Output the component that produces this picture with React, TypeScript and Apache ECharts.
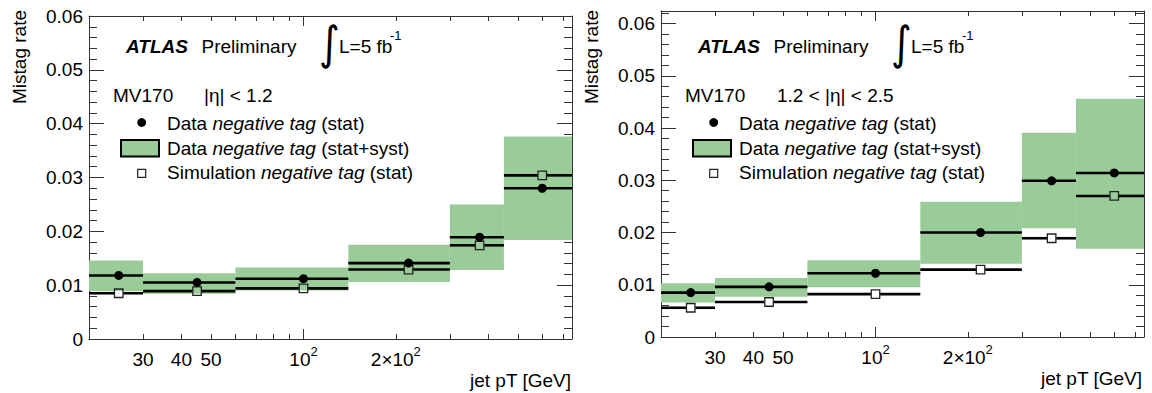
import React, { useEffect, useRef } from 'react';
import * as echarts from 'echarts';

// ---------------- data ----------------
const BIN_EDGES = [20, 30, 60, 140, 300, 450, 750];
const BIN_CENTERS = [25, 45, 100, 220, 375, 600];

// |eta| < 1.2
const LEFT_DATA = [0.0118, 0.0105, 0.0112, 0.0141, 0.0189, 0.0280];
const LEFT_SYST_LOW = [0.0089, 0.0084, 0.0090, 0.0106, 0.0128, 0.0184];
const LEFT_SYST_HIGH = [0.0146, 0.0122, 0.0133, 0.0175, 0.0250, 0.0376];
const LEFT_SIM = [0.0085, 0.0089, 0.0094, 0.0129, 0.0174, 0.0304];

// 1.2 < |eta| < 2.5
const RIGHT_DATA = [0.0085, 0.0096, 0.0122, 0.0200, 0.0299, 0.0314];
const RIGHT_SYST_LOW = [0.0066, 0.0077, 0.0095, 0.0140, 0.0208, 0.0169];
const RIGHT_SYST_HIGH = [0.0103, 0.0113, 0.0147, 0.0259, 0.0391, 0.0456];
const RIGHT_SIM = [0.0056, 0.0067, 0.0082, 0.0129, 0.0189, 0.0270];

const X_MIN = 20;
const X_MAX = 750;
const X_MAJOR_TICKS = [100];
const X_MINOR_TICKS = [30, 40, 50, 60, 70, 80, 90, 200, 300, 400, 500, 600, 700];
const X_TICK_LABELS = [30, 40, 50, 100, 200];
const Y_MAX_LEFT = 0.06;
const Y_MAX_RIGHT = 0.0624;

// ---------------- style ----------------
const FONT = "'Liberation Sans', Arial, Helvetica, sans-serif";
const GREEN = '#99cc99';
const FRAME = '#333333';
const L10 = (v: number) => Math.log10(v);

function xLabel(v: number): string {
  const p = Math.round(Math.pow(10, v));
  if (p === 100) return '{n|10}{s|2}';
  if (p === 200) return '{n|2×10}{s|2}';
  return '{n|' + String(p) + '}';
}

function yLabel(v: number): string {
  const k = Math.round(v * 100);
  if (Math.abs(v * 100 - k) > 1e-6 || k > 6) return '';
  return k === 0 ? '0' : (k / 100).toFixed(2);
}

function makeXAxes(gridIndex: number) {
  const base = {
    gridIndex,
    type: 'value',
    min: L10(X_MIN),
    max: L10(X_MAX),
    splitLine: { show: false },
  };
  const line = { show: true, onZero: false, lineStyle: { color: FRAME, width: 1 } };
  const noLine = { show: false, onZero: false };
  return [
    {
      ...base,
      position: 'bottom',
      axisLine: line,
      axisTick: { show: true, inside: true, length: 10, customValues: X_MAJOR_TICKS.map(L10), lineStyle: { color: FRAME } },
      axisLabel: {
        show: true,
        customValues: X_TICK_LABELS.map(L10),
        formatter: xLabel,
        fontFamily: FONT,
        fontSize: 19,
        color: '#000',
        margin: 6,
        rich: {
          n: { fontFamily: FONT, fontSize: 19, color: '#000', verticalAlign: 'bottom', lineHeight: 24 },
          s: { fontFamily: FONT, fontSize: 13, color: '#000', verticalAlign: 'top', lineHeight: 24 },
        },
      },
    },
    {
      ...base,
      position: 'bottom',
      axisLine: noLine,
      axisTick: { show: true, inside: true, length: 5, customValues: X_MINOR_TICKS.map(L10), lineStyle: { color: FRAME } },
      axisLabel: { show: false },
    },
    {
      ...base,
      position: 'top',
      axisLine: line,
      axisTick: { show: true, inside: true, length: 10, customValues: X_MAJOR_TICKS.map(L10), lineStyle: { color: FRAME } },
      axisLabel: { show: false },
    },
    {
      ...base,
      position: 'top',
      axisLine: noLine,
      axisTick: { show: true, inside: true, length: 5, customValues: X_MINOR_TICKS.map(L10), lineStyle: { color: FRAME } },
      axisLabel: { show: false },
    },
  ];
}

function makeYAxes(gridIndex: number, yMax: number) {
  const base = { gridIndex, type: 'value', min: 0, max: yMax, splitLine: { show: false } };
  const line = { show: true, onZero: false, lineStyle: { color: FRAME, width: 1 } };
  const noLine = { show: false, onZero: false };
  const axes: any[] = [];
  (['left', 'right'] as const).forEach((pos) => {
    axes.push({
      ...base,
      position: pos,
      interval: 0.01,
      axisLine: line,
      axisTick: { show: true, inside: true, length: 15, lineStyle: { color: FRAME } },
      axisLabel: {
        show: pos === 'left',
        formatter: yLabel,
        fontFamily: FONT,
        fontSize: 19,
        color: '#000',
        margin: 6,
        showMaxLabel: true,
      },
    });
    axes.push({
      ...base,
      position: pos,
      interval: 0.002,
      axisLine: noLine,
      axisTick: { show: true, inside: true, length: 8, lineStyle: { color: FRAME } },
      axisLabel: { show: false },
    });
  });
  return axes;
}

function bandSeries(xi: number, yi: number, low: number[], high: number[]) {
  return {
    type: 'custom',
    coordinateSystem: 'cartesian2d',
    xAxisIndex: xi,
    yAxisIndex: yi,
    silent: true,
    z: 1,
    encode: { x: [0, 1], y: [2, 3] },
    data: low.map((lo, i) => [L10(BIN_EDGES[i]), L10(BIN_EDGES[i + 1]), lo, high[i]]),
    renderItem: (_p: any, api: any) => {
      const a = api.coord([api.value(0), api.value(2)]);
      const b = api.coord([api.value(1), api.value(3)]);
      return {
        type: 'rect',
        shape: { x: a[0], y: b[1], width: b[0] - a[0], height: a[1] - b[1] },
        style: { fill: GREEN },
      };
    },
  };
}

function lineSeries(xi: number, yi: number, vals: number[], gap: number, z: number) {
  return {
    type: 'custom',
    coordinateSystem: 'cartesian2d',
    xAxisIndex: xi,
    yAxisIndex: yi,
    silent: true,
    z,
    encode: { x: [0, 1, 2], y: 3 },
    data: vals.map((v, i) => [L10(BIN_EDGES[i]), L10(BIN_EDGES[i + 1]), L10(BIN_CENTERS[i]), v]),
    renderItem: (_p: any, api: any) => {
      const a = api.coord([api.value(0), api.value(3)]);
      const b = api.coord([api.value(1), api.value(3)]);
      const c = api.coord([api.value(2), api.value(3)]);
      const style = { stroke: '#000', lineWidth: 2.6 };
      if (gap > 0) {
        return {
          type: 'group',
          children: [
            { type: 'line', shape: { x1: a[0], y1: a[1], x2: c[0] - gap, y2: c[1] }, style },
            { type: 'line', shape: { x1: c[0] + gap, y1: c[1], x2: b[0], y2: b[1] }, style },
          ],
        };
      }
      return { type: 'line', shape: { x1: a[0], y1: a[1], x2: b[0], y2: b[1] }, style };
    },
  };
}

function markerSeries(xi: number, yi: number, vals: number[], hollow: boolean) {
  return {
    type: 'scatter',
    xAxisIndex: xi,
    yAxisIndex: yi,
    silent: true,
    z: hollow ? 5 : 6,
    symbol: hollow ? 'rect' : 'circle',
    symbolSize: hollow ? 8.5 : 9,
    itemStyle: hollow
      ? { color: 'rgba(0,0,0,0)', borderColor: '#222', borderWidth: 1.3, opacity: 1 }
      : { color: '#000', opacity: 1 },
    emphasis: { disabled: true },
    data: vals.map((v, i) => [L10(BIN_CENTERS[i]), v]),
  };
}

function panelSeries(panel: number, data: number[], low: number[], high: number[], sim: number[]) {
  const xi = panel * 4;
  const yi = panel * 4;
  return [
    bandSeries(xi, yi, low, high),
    lineSeries(xi, yi, sim, 4.6, 3),
    lineSeries(xi, yi, data, 0, 4),
    markerSeries(xi, yi, sim, true),
    markerSeries(xi, yi, data, false),
  ];
}

function txt(x: number, y: number, text: string, opts: any = {}) {
  return {
    type: 'text',
    x,
    y,
    silent: true,
    z: 20,
    rotation: opts.rotation || 0,
    scaleY: opts.scaleY || 1,
    style: {
      text,
      fill: '#000',
      fontFamily: opts.fontFamily || FONT,
      fontSize: opts.fontSize || 19,
      fontWeight: opts.fontWeight || 'normal',
      fontStyle: opts.fontStyle || 'normal',
      align: opts.align || 'left',
      verticalAlign: 'middle',
      rich: opts.rich,
    },
  };
}

const ITALIC_RICH = {
  i: { fontStyle: 'italic', fontSize: 19, fontFamily: FONT, fill: '#000' },
};

function panelGraphics(ox: number, etaText: string, etaX: number, gridRight: number, axisNameY: number) {
  return [
    txt(19 + ox, 10, 'Mistag rate', { rotation: Math.PI / 2, align: 'right' }),
    txt(gridRight, axisNameY, 'jet pT [GeV]', { align: 'right' }),
    txt(126 + ox, 46.5, 'ATLAS', { fontWeight: 'bold', fontStyle: 'italic' }),
    txt(201.5 + ox, 46.5, 'Preliminary'),
    txt(319 + ox, 43, '∫', { fontFamily: "'DejaVu Sans', sans-serif", fontSize: 40, scaleY: 1.15 }),
    txt(339 + ox, 46.5, 'L=5 fb'),
    txt(390 + ox, 35, '-1', { fontSize: 13 }),
    txt(113 + ox, 95, 'MV170'),
    txt(etaX, 95, etaText),
    {
      type: 'circle',
      silent: true,
      z: 20,
      shape: { cx: 141.7 + ox, cy: 122.5, r: 4.4 },
      style: { fill: '#000' },
    },
    txt(167 + ox, 123, 'Data {i|negative tag} (stat)', { rich: ITALIC_RICH }),
    {
      type: 'rect',
      silent: true,
      z: 20,
      shape: { x: 121 + ox, y: 140, width: 38, height: 16.5 },
      style: { fill: GREEN, stroke: '#000', lineWidth: 2 },
    },
    txt(167 + ox, 148.3, 'Data {i|negative tag} (stat+syst)', { rich: ITALIC_RICH }),
    {
      type: 'rect',
      silent: true,
      z: 20,
      shape: { x: 137.7 + ox, y: 169.3, width: 8, height: 8 },
      style: { fill: '#fff', stroke: '#222', lineWidth: 1.2 },
    },
    txt(167 + ox, 172, 'Simulation {i|negative tag} (stat)', { rich: ITALIC_RICH }),
  ];
}

export default function App() {
  const ref = useRef<HTMLDivElement>(null);
  useEffect(() => {
    if (!ref.current) return;
    const chart = echarts.init(ref.current, undefined, { renderer: 'svg' });
    chart.setOption({
      animation: false,
      backgroundColor: '#fff',
      grid: [
        { left: 89, top: 16, width: 483, height: 323, containLabel: false, outerBoundsMode: 'none' },
        { left: 661, top: 11, width: 483, height: 326, containLabel: false, outerBoundsMode: 'none' },
      ],
      xAxis: [...makeXAxes(0), ...makeXAxes(1)],
      yAxis: [...makeYAxes(0, Y_MAX_LEFT), ...makeYAxes(1, Y_MAX_RIGHT)],
      series: [
        ...panelSeries(0, LEFT_DATA, LEFT_SYST_LOW, LEFT_SYST_HIGH, LEFT_SIM),
        ...panelSeries(1, RIGHT_DATA, RIGHT_SYST_LOW, RIGHT_SYST_HIGH, RIGHT_SIM),
      ],
      graphic: [
        ...panelGraphics(0, '|η| < 1.2', 204, 571, 380),
        ...panelGraphics(572, '1.2 < |η| < 2.5', 777, 1142, 378),
      ],
    });
    return () => chart.dispose();
  }, []);
  return (
    <div
      ref={ref}
      style={{ position: 'absolute', left: 0, top: 0, width: 1152, height: 393, background: '#fff' }}
    />
  );
}
